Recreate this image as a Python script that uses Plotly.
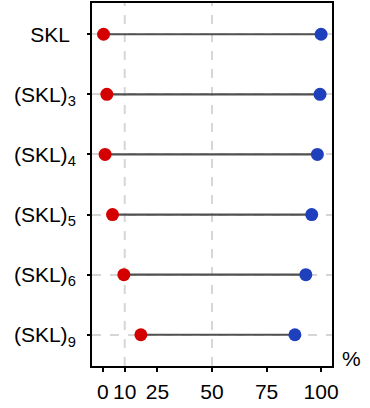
import plotly.graph_objects as go

categories = ["SKL\u00a0", "(SKL)<sub>3</sub>", "(SKL)<sub>4</sub>", "(SKL)<sub>5</sub>",
              "(SKL)<sub>6</sub>", "(SKL)<sub>9</sub>"]
red_values = [0.3, 1.8, 1.0, 4.4, 9.6, 17.4]
blue_values = [100.0, 99.5, 98.3, 95.7, 93.0, 88.0]
x_ticks = [0, 10, 25, 50, 75, 100]
grid_x = [10, 50]

ypos = list(range(len(categories)))

fig = go.Figure()

# connecting lines
lx, ly = [], []
for i, (r, b) in enumerate(zip(red_values, blue_values)):
    lx += [r, b, None]
    ly += [i, i, None]
fig.add_trace(go.Scatter(x=lx, y=ly, mode="lines",
                         line=dict(color="#505050", width=2.2),
                         hoverinfo="skip", showlegend=False))

fig.add_trace(go.Scatter(x=red_values, y=ypos, mode="markers",
                         marker=dict(color="#d40000", size=13),
                         showlegend=False))
fig.add_trace(go.Scatter(x=blue_values, y=ypos, mode="markers",
                         marker=dict(color="#1f40bd", size=13),
                         showlegend=False))

for gx in grid_x:
    fig.add_shape(type="line", xref="x", yref="paper", x0=gx, x1=gx, y0=0, y1=1,
                  line=dict(color="#d6d6d6", width=2, dash="dash"), layer="below")

fig.add_annotation(text="%", xref="paper", yref="paper", x=1.08, y=0.02,
                   showarrow=False, font=dict(size=21, color="black",
                                               family="Liberation Sans, Arial"),
                   xanchor="center", yanchor="middle")

fig.update_layout(
    width=370, height=408,
    margin=dict(l=92, r=38, t=3, b=42),
    plot_bgcolor="white", paper_bgcolor="white",
    font=dict(family="Liberation Sans, Arial", size=21, color="black"),
    xaxis=dict(range=[-5, 105], tickvals=x_ticks, ticktext=[str(v) for v in x_ticks],
               showgrid=False, zeroline=False, showline=True, linecolor="black",
               linewidth=2, mirror=True, ticks="outside", ticklen=4, tickwidth=1.5,
               tickcolor="black", ticklabelstandoff=2, automargin=False),
    yaxis=dict(range=[5.52, -0.52], tickvals=ypos, ticktext=categories,
               showgrid=True, gridcolor="#d6d6d6", gridwidth=2, griddash="dash",
               zeroline=False, showline=True, linecolor="black", linewidth=2,
               mirror=True, ticks="outside", ticklen=3, tickwidth=2,
               tickcolor="black", ticklabelstandoff=7, automargin=False),
)

fig.write_html("out.html", config={"displayModeBar": False},
               post_script="document.body.style.margin='0px';document.body.style.overflow='hidden';")
